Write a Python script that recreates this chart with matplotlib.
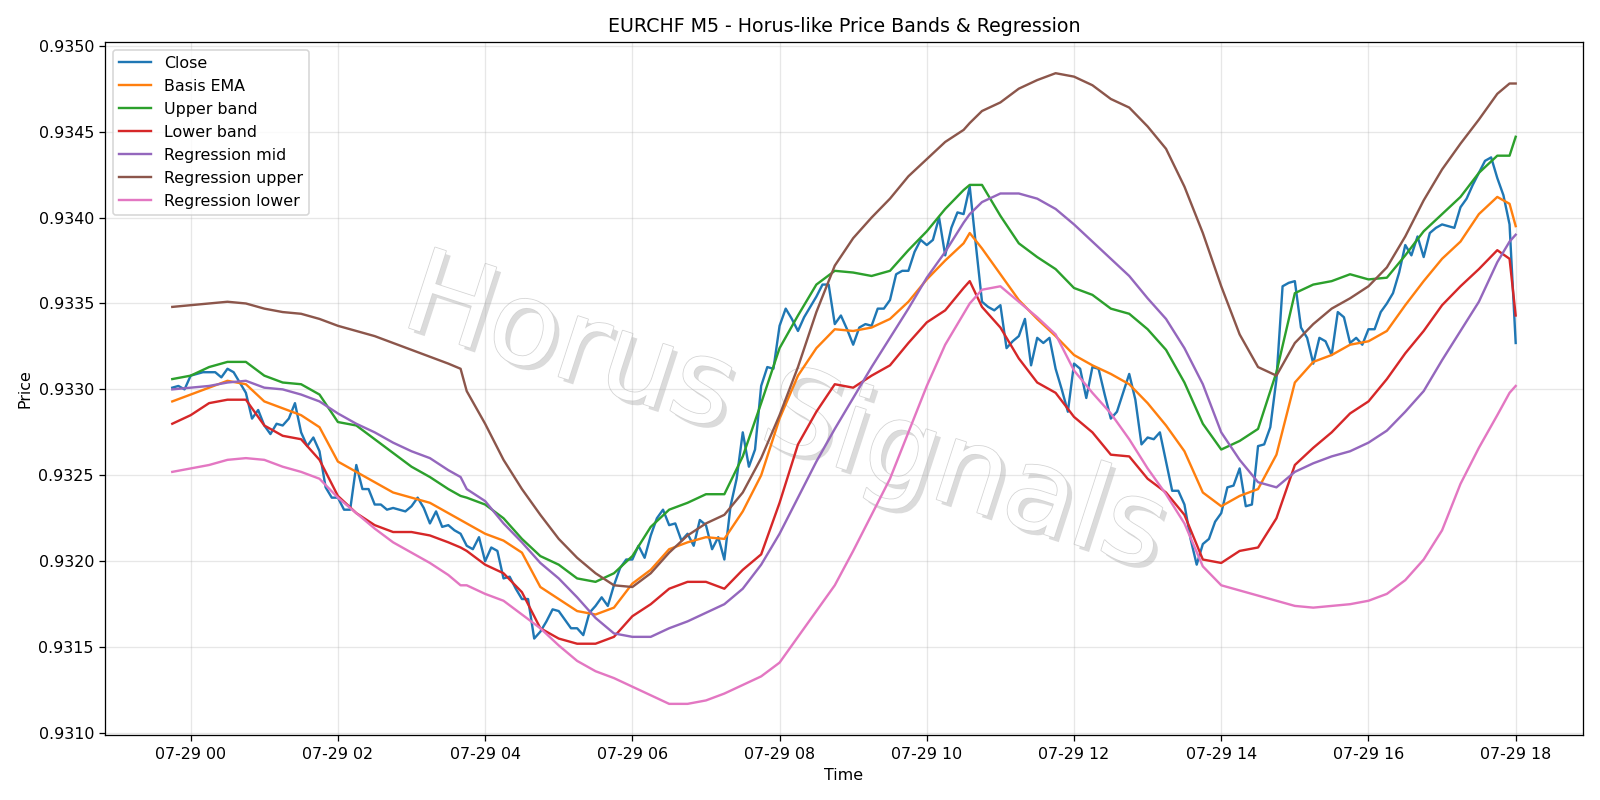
import matplotlib
matplotlib.use("Agg")
import matplotlib.pyplot as plt
import matplotlib.patheffects as pe
import pandas as pd

# ---- data -------------------------------------------------------------
close = [
    0.93301, 0.93302, 0.93300, 0.93308, 0.93309, 0.93310, 0.93310, 0.93310, 0.93307, 0.93312,
    0.93310, 0.93304, 0.93298, 0.93283, 0.93288, 0.93279, 0.93274, 0.93280, 0.93279, 0.93283,
    0.93292, 0.93275, 0.93267, 0.93272, 0.93264, 0.93243, 0.93237, 0.93237, 0.93230, 0.93230,
    0.93256, 0.93242, 0.93242, 0.93233, 0.93233, 0.93230, 0.93231, 0.93230, 0.93229, 0.93232,
    0.93237, 0.93231, 0.93222, 0.93229, 0.93220, 0.93221, 0.93218, 0.93216, 0.93209, 0.93207,
    0.93214, 0.93200, 0.93208, 0.93206, 0.93190, 0.93191, 0.93184, 0.93178, 0.93178, 0.93155,
    0.93159, 0.93165, 0.93172, 0.93171, 0.93166, 0.93161, 0.93161, 0.93157, 0.93170, 0.93174,
    0.93179, 0.93174, 0.93186, 0.93196, 0.93201, 0.93201, 0.93209, 0.93202, 0.93215, 0.93225,
    0.93230, 0.93221, 0.93222, 0.93212, 0.93216, 0.93209, 0.93224, 0.93221, 0.93207, 0.93214,
    0.93201, 0.93232, 0.93248, 0.93275, 0.93255, 0.93265, 0.93302, 0.93313, 0.93312, 0.93337,
    0.93347, 0.93341, 0.93334, 0.93342, 0.93348, 0.93354, 0.93361, 0.93361, 0.93338, 0.93343,
    0.93335, 0.93326, 0.93336, 0.93338, 0.93337, 0.93347, 0.93347, 0.93352, 0.93367, 0.93369,
    0.93369, 0.93380, 0.93387, 0.93384, 0.93387, 0.93400, 0.93378, 0.93394, 0.93403, 0.93402,
    0.93418, 0.93384, 0.93351, 0.93348, 0.93346, 0.93349, 0.93324, 0.93328, 0.93331, 0.93341,
    0.93314, 0.93330, 0.93327, 0.93330, 0.93312, 0.93300, 0.93287, 0.93315, 0.93312, 0.93295,
    0.93313, 0.93312, 0.93297, 0.93283, 0.93287, 0.93298, 0.93309, 0.93294, 0.93268, 0.93272,
    0.93271, 0.93275, 0.93258, 0.93241, 0.93241, 0.93233, 0.93213, 0.93198, 0.93210, 0.93213,
    0.93223, 0.93228, 0.93243, 0.93244, 0.93254, 0.93232, 0.93233, 0.93267, 0.93268, 0.93278,
    0.93306, 0.93360, 0.93362, 0.93363, 0.93336, 0.93330, 0.93315, 0.93330, 0.93328, 0.93320,
    0.93345, 0.93342, 0.93327, 0.93330, 0.93326, 0.93335, 0.93335, 0.93345, 0.93350, 0.93356,
    0.93368, 0.93384, 0.93378, 0.93389, 0.93377, 0.93391, 0.93394, 0.93396, 0.93395, 0.93394,
    0.93406, 0.93411, 0.93419, 0.93426, 0.93433, 0.93435, 0.93423, 0.93413, 0.93396, 0.93327,
]

# indicator sample times, minutes relative to 07-29 00:00
band_minutes = [-15, 0, 15, 30, 45, 60, 75, 90, 105, 120, 135, 150, 165, 180, 195, 210, 220,
                225, 240, 255, 270, 285, 300, 315, 330, 345, 360, 375, 390, 405, 420, 435,
                450, 465, 480, 495, 510, 525, 540, 555, 570, 585, 600, 615, 630, 635, 645,
                660, 675, 690, 705, 720, 735, 750, 765, 780, 795, 810, 825, 840, 855, 870,
                885, 900, 915, 930, 945, 960, 975, 990, 1005, 1020, 1035, 1050, 1065, 1075,
                1080]

basis_ema = [0.93293, 0.93297, 0.93301, 0.93305, 0.93303, 0.93293, 0.93289, 0.93285, 0.93278,
             0.93258, 0.93252, 0.93246, 0.93240, 0.93237, 0.93234, 0.93228, 0.93224, 0.93222,
             0.93216, 0.93212, 0.93205, 0.93185, 0.93178, 0.93171, 0.93169, 0.93173, 0.93187,
             0.93195, 0.93207, 0.93211, 0.93214, 0.93213, 0.93229, 0.93250, 0.93283, 0.93308,
             0.93324, 0.93335, 0.93334, 0.93336, 0.93341, 0.93351, 0.93364, 0.93375, 0.93385,
             0.93391, 0.93382, 0.93367, 0.93352, 0.93341, 0.93331, 0.93320, 0.93314, 0.93309,
             0.93303, 0.93292, 0.93279, 0.93264, 0.93240, 0.93232, 0.93238, 0.93242, 0.93262,
             0.93304, 0.93316, 0.93320, 0.93326, 0.93328, 0.93334, 0.93349, 0.93363, 0.93376,
             0.93386, 0.93402, 0.93412, 0.93408, 0.93395]

upper_band = [0.93306, 0.93308, 0.93313, 0.93316, 0.93316, 0.93308, 0.93304, 0.93303, 0.93297,
              0.93281, 0.93279, 0.93271, 0.93263, 0.93255, 0.93249, 0.93242, 0.93238, 0.93237,
              0.93233, 0.93225, 0.93213, 0.93203, 0.93198, 0.93190, 0.93188, 0.93193, 0.93203,
              0.93220, 0.93230, 0.93234, 0.93239, 0.93239, 0.93261, 0.93292, 0.93324, 0.93343,
              0.93361, 0.93369, 0.93368, 0.93366, 0.93369, 0.93381, 0.93392, 0.93405, 0.93416,
              0.93419, 0.93419, 0.93401, 0.93385, 0.93377, 0.93370, 0.93359, 0.93355, 0.93347,
              0.93344, 0.93335, 0.93323, 0.93304, 0.93280, 0.93265, 0.93270, 0.93277, 0.93310,
              0.93356, 0.93361, 0.93363, 0.93367, 0.93364, 0.93365, 0.93378, 0.93392, 0.93402,
              0.93412, 0.93426, 0.93436, 0.93436, 0.93447]

lower_band = [0.93280, 0.93285, 0.93292, 0.93294, 0.93294, 0.93279, 0.93273, 0.93271, 0.93259,
              0.93238, 0.93228, 0.93221, 0.93217, 0.93217, 0.93215, 0.93211, 0.93208, 0.93206,
              0.93198, 0.93193, 0.93182, 0.93161, 0.93155, 0.93152, 0.93152, 0.93156, 0.93168,
              0.93175, 0.93184, 0.93188, 0.93188, 0.93184, 0.93195, 0.93204, 0.93234, 0.93268,
              0.93287, 0.93303, 0.93301, 0.93308, 0.93314, 0.93327, 0.93339, 0.93346, 0.93359,
              0.93363, 0.93348, 0.93336, 0.93318, 0.93304, 0.93298, 0.93284, 0.93275, 0.93262,
              0.93261, 0.93248, 0.93240, 0.93227, 0.93201, 0.93199, 0.93206, 0.93208, 0.93225,
              0.93256, 0.93266, 0.93275, 0.93286, 0.93293, 0.93306, 0.93321, 0.93334, 0.93349,
              0.93360, 0.93370, 0.93381, 0.93376, 0.93343]

reg_mid = [0.93300, 0.93301, 0.93302, 0.93304, 0.93305, 0.93301, 0.93300, 0.93297, 0.93293,
           0.93286, 0.93280, 0.93275, 0.93269, 0.93264, 0.93260, 0.93253, 0.93249, 0.93242,
           0.93235, 0.93222, 0.93211, 0.93199, 0.93190, 0.93179, 0.93167, 0.93158, 0.93156,
           0.93156, 0.93161, 0.93165, 0.93170, 0.93175, 0.93184, 0.93198, 0.93216, 0.93237,
           0.93258, 0.93277, 0.93295, 0.93313, 0.93330, 0.93347, 0.93365, 0.93380, 0.93397,
           0.93402, 0.93409, 0.93414, 0.93414, 0.93411, 0.93405, 0.93396, 0.93386, 0.93376,
           0.93366, 0.93353, 0.93341, 0.93324, 0.93303, 0.93275, 0.93259, 0.93246, 0.93243,
           0.93252, 0.93257, 0.93261, 0.93264, 0.93269, 0.93276, 0.93287, 0.93299, 0.93317,
           0.93334, 0.93351, 0.93374, 0.93386, 0.93390]

reg_upper = [0.93348, 0.93349, 0.93350, 0.93351, 0.93350, 0.93347, 0.93345, 0.93344, 0.93341,
             0.93337, 0.93334, 0.93331, 0.93327, 0.93323, 0.93319, 0.93315, 0.93312, 0.93299,
             0.93280, 0.93259, 0.93242, 0.93227, 0.93213, 0.93202, 0.93193, 0.93186, 0.93185,
             0.93193, 0.93205, 0.93215, 0.93222, 0.93227, 0.93240, 0.93260, 0.93285, 0.93313,
             0.93345, 0.93372, 0.93388, 0.93400, 0.93411, 0.93424, 0.93434, 0.93444, 0.93451,
             0.93455, 0.93462, 0.93467, 0.93475, 0.93480, 0.93484, 0.93482, 0.93477, 0.93469,
             0.93464, 0.93453, 0.93440, 0.93418, 0.93391, 0.93360, 0.93332, 0.93313, 0.93308,
             0.93327, 0.93338, 0.93347, 0.93353, 0.93360, 0.93371, 0.93389, 0.93410, 0.93428,
             0.93443, 0.93457, 0.93472, 0.93478, 0.93478]

reg_lower = [0.93252, 0.93254, 0.93256, 0.93259, 0.93260, 0.93259, 0.93255, 0.93252, 0.93248,
             0.93237, 0.93228, 0.93219, 0.93211, 0.93205, 0.93199, 0.93192, 0.93186, 0.93186,
             0.93181, 0.93177, 0.93169, 0.93161, 0.93151, 0.93142, 0.93136, 0.93132, 0.93127,
             0.93122, 0.93117, 0.93117, 0.93119, 0.93123, 0.93128, 0.93133, 0.93141, 0.93156,
             0.93171, 0.93186, 0.93206, 0.93227, 0.93248, 0.93275, 0.93302, 0.93326, 0.93344,
             0.93350, 0.93358, 0.93360, 0.93351, 0.93342, 0.93332, 0.93311, 0.93298, 0.93286,
             0.93271, 0.93254, 0.93239, 0.93222, 0.93197, 0.93186, 0.93183, 0.93180, 0.93177,
             0.93174, 0.93173, 0.93174, 0.93175, 0.93177, 0.93181, 0.93189, 0.93201, 0.93218,
             0.93245, 0.93266, 0.93285, 0.93298, 0.93302]

# ---- time axes ----------------------------------------------------------
close_times = pd.date_range("2025-07-28 23:45", periods=len(close), freq="5min")
band_times = pd.Timestamp("2025-07-29 00:00") + pd.to_timedelta(band_minutes, unit="m")

DPI = 1600 / 14
fig, ax = plt.subplots(figsize=(14, 7), dpi=DPI)

ax.plot(close_times, close, label="Close")
ax.plot(band_times, basis_ema, label="Basis EMA")
ax.plot(band_times, upper_band, label="Upper band")
ax.plot(band_times, lower_band, label="Lower band")
ax.plot(band_times, reg_mid, label="Regression mid")
ax.plot(band_times, reg_upper, label="Regression upper")
ax.plot(band_times, reg_lower, label="Regression lower")

ax.set_title("EURCHF M5 - Horus-like Price Bands & Regression")
ax.set_xlabel("Time")
ax.set_ylabel("Price")
ax.grid(True, alpha=0.3)
ax.legend(loc="upper left")

ax.text(0.46, 0.46, "Horus Signals", transform=ax.transAxes,
        fontsize=73, color="white", rotation=-18,
        ha="center", va="center", zorder=1.5,
        path_effects=[pe.withSimplePatchShadow(offset=(3, -3), shadow_rgbFace="#b8b8b8", alpha=0.5),
                      pe.Stroke(linewidth=1.0, foreground="#d4d4d4"),
                      pe.Normal()])

fig.tight_layout()
fig.savefig("out.png", dpi=DPI)
